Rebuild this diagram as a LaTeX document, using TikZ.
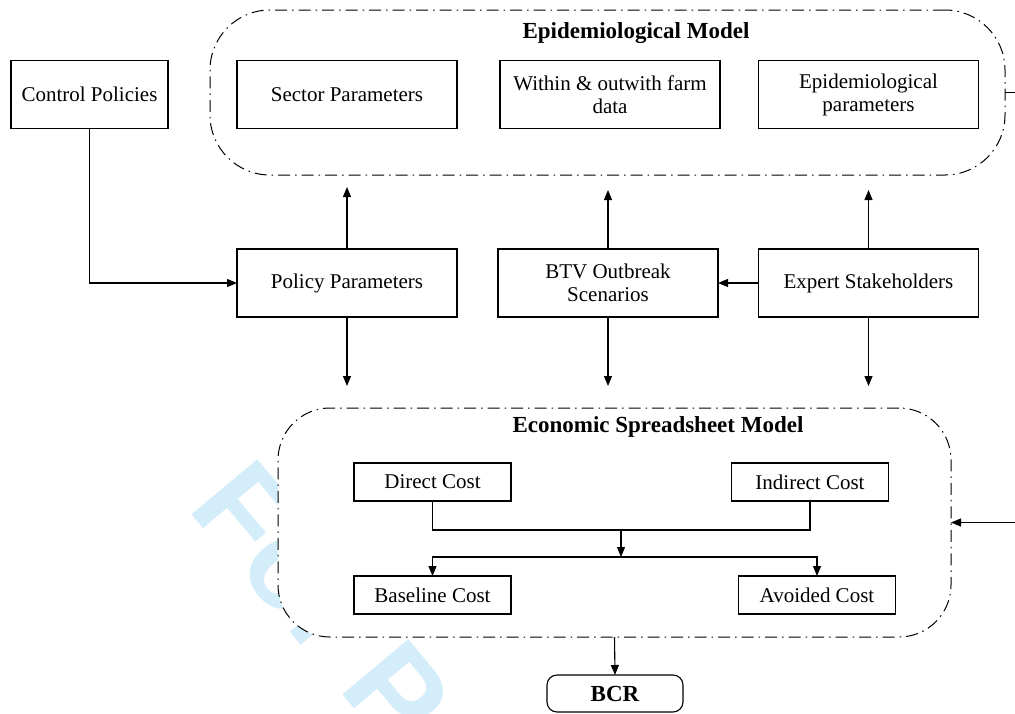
\documentclass[tikz,border=0pt]{standalone}
\usepackage{fontspec}
\setmainfont{Liberation Serif}
\newfontfamily\wmfont{Liberation Sans}
\usetikzlibrary{arrows.meta}
\definecolor{wmblue}{RGB}{212,237,251}
\begin{document}
\begin{tikzpicture}[x=1pt,y=-1pt,
  box/.style={draw, line width=1.1pt, inner sep=0pt, outer sep=0pt, align=center,
    font=\fontsize{21}{23}\selectfont},
  bigbox/.style={box, minimum width=220pt, minimum height=68pt},
  smallbox/.style={box, minimum width=157pt, minimum height=38pt},
  cont/.style={draw, fill=white, line width=1pt,
    dash pattern=on 12pt off 5pt on 1.5pt off 5pt, inner sep=0pt, outer sep=0pt},
  ttl/.style={font=\bfseries\fontsize{23}{26}\selectfont},
  arr/.style={line width=1.1pt, -{Triangle[length=10pt,width=8pt]}},
  ln/.style={line width=1.1pt},
  wm/.style={text=wmblue, font=\wmfont\bfseries\fontsize{125}{125}\selectfont, inner sep=0pt}]
\useasboundingbox (0,0) rectangle (1015,713);
\clip (0,0) rectangle (1015,713);
\fill[white] (0,0) rectangle (1015,713);

% watermark
\node[wm, rotate=-50, anchor=base west] (wmk) at (186,508) {For Peer Review};

% containers
\node[cont, rounded corners=60pt, minimum width=795pt, minimum height=165pt] (epi) at (607.5,92.5) {};
\node[ttl] (epititle) at (636,33) {Epidemiological Model};
\node[cont, rounded corners=52pt, minimum width=673pt, minimum height=229pt] (econ) at (614.5,522.5) {};
\node[ttl] (econtitle) at (658,427) {Economic Spreadsheet Model};

% top row
\node[box, minimum width=157pt, minimum height=68pt] (cp) at (89.5,94.5) {Control Policies};
\node[bigbox] (sp) at (347,94.5) {Sector Parameters};
\node[bigbox] (wf) at (610,94.5) {Within \& outwith farm\\data};
\node[bigbox] (ep) at (868.5,94.5) {Epidemiological\\parameters};

% middle row
\node[bigbox] (pp) at (347,283) {Policy Parameters};
\node[bigbox] (btv) at (608,283) {BTV Outbreak\\Scenarios};
\node[bigbox] (es) at (868.5,283) {Expert Stakeholders};

% economic inner boxes
\node[smallbox] (dc) at (432.5,482) {Direct Cost};
\node[smallbox] (ic) at (810,482) {Indirect Cost};
\node[smallbox] (bc) at (432.5,595) {Baseline Cost};
\node[smallbox] (ac) at (817,595) {Avoided Cost};

% BCR
\node[box, rounded corners=10pt, minimum width=136pt, minimum height=37pt,
  font=\bfseries\fontsize{23}{26}\selectfont] (bcr) at (615,693.5) {BCR};

% free ends
\coordinate (u1) at (347,187);
\coordinate (u2) at (608,190);
\coordinate (u3) at (868.5,190);
\coordinate (d1) at (347,386);
\coordinate (d2) at (608,386);
\coordinate (d3) at (868.5,386);
\coordinate (j1) at (621,530);
\coordinate (j2) at (621,557);
\coordinate (r1) at (1035,92.5);

% connectors
\draw[arr] (cp.south) |- (pp.west);
\draw[arr] (pp.north) -- (u1);
\draw[arr] (btv.north) -- (u2);
\draw[arr] (es.north) -- (u3);
\draw[arr] (pp.south) -- (d1);
\draw[arr] (btv.south) -- (d2);
\draw[arr] (es.south) -- (d3);
\draw[arr] (es.west) -- (btv.east);
\draw[ln] (dc.south) |- (j1) -| (ic.south);
\draw[arr] (j1) -- (j2);
\draw[arr] (j2) -| (bc.north);
\draw[arr] (j2) -| (ac.north);
\draw[arr] (econ.south) -- (bcr.north);
\draw[arr] (epi.east) -- (r1) |- (econ.east);
\end{tikzpicture}
\end{document}
